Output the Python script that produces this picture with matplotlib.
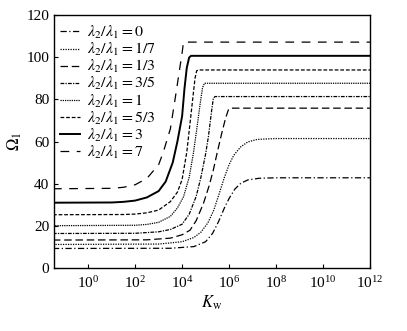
import numpy as np
import matplotlib
matplotlib.use('Agg')
import matplotlib.pyplot as plt

plt.rcParams['font.family'] = ['Liberation Serif', 'DejaVu Serif']
plt.rcParams['mathtext.fontset'] = 'stix'

# values: log10(K_w) and Omega_1 for each lambda2/lambda1
logk_0 = [-1.5, 3.5, 4.5, 5.0, 5.3, 5.55, 5.8, 6.0, 6.25, 6.5, 6.8, 7.3, 8.0, 12]
om_0 = [9.3, 9.4, 10.2, 12.5, 16.5, 22.0, 28.5, 33.0, 37.5, 40.2, 41.8, 42.6, 42.8, 42.8]

logk_17 = [-1.5, 3.0, 4.0, 4.5, 4.8, 5.1, 5.35, 5.6, 5.8, 6.0, 6.2, 6.5, 6.8, 7.2, 8.0, 12]
om_17 = [11.2, 11.4, 12.5, 14.5, 17.0, 21.5, 27.5, 36.0, 43.0, 49.0, 53.5, 57.5, 59.8, 61.0, 61.4, 61.4]

logk_13 = [-1.5, 2.5, 3.5, 4.0, 4.34, 4.6, 4.91, 5.15, 5.33, 5.5, 5.69, 5.85, 5.97, 6.05, 12]
om_13 = [13.3, 13.4, 14.2, 15.8, 18.0, 22.5, 30.7, 39.0, 46.5, 55.0, 64.0, 71.0, 75.0, 75.8, 75.8]

logk_35 = [-1.5, 2.0, 3.0, 3.5, 4.0, 4.3, 4.6, 4.8, 5.0, 5.12, 5.25, 5.33, 5.4, 12]
om_35 = [16.4, 16.5, 17.2, 18.3, 20.8, 25.5, 34.0, 43.0, 54.0, 62.3, 74.0, 80.5, 81.3, 81.3]

logk_1 = [-1.5, 2.0, 2.5, 3.0, 3.5, 3.8, 4.06, 4.3, 4.48, 4.65, 4.77, 4.87, 4.95, 12]
om_1 = [20.1, 20.3, 20.7, 21.7, 24.5, 28.5, 33.8, 43.0, 54.4, 68.0, 78.0, 85.5, 87.6, 87.6]

logk_53 = [-1.5, 1.5, 2.0, 2.5, 3.0, 3.5, 3.8, 4.0, 4.2, 4.35, 4.45, 4.55, 4.62, 4.7, 12]
om_53 = [25.3, 25.4, 25.6, 26.2, 27.5, 31.5, 36.0, 42.0, 55.0, 70.0, 80.0, 90.0, 93.5, 93.9, 93.9]

logk_3 = [-1.5, 1.0, 1.5, 2.0, 2.5, 3.0, 3.3, 3.6, 3.8, 4.0, 4.1, 4.2, 4.3, 4.38, 12]
om_3 = [31.0, 31.1, 31.4, 32.0, 33.5, 36.5, 41.0, 50.0, 60.0, 72.0, 85.0, 95.0, 99.8, 100.6, 100.6]

logk_7 = [-1.5, 1.0, 1.5, 2.0, 2.5, 3.0, 3.2, 3.5, 3.7, 3.85, 4.0, 4.06, 12]
om_7 = [37.6, 37.8, 38.3, 39.5, 42.5, 49.0, 55.0, 66.0, 80.0, 91.0, 102.0, 107.1, 107.1]

labels = ['0', '1/7', '1/3', '3/5', '1', '5/3', '3', '7']

fig = plt.figure(figsize=(4.07, 3.31), dpi=100)
ax = fig.add_axes([0.133, 0.190, 0.776, 0.765])

curves = [
    (logk_0, om_0, (0, (5, 2, 1, 2)), 0.9),
    (logk_17, om_17, (0, (1, 1)), 0.9),
    (logk_13, om_13, (0, (6, 3)), 0.9),
    (logk_35, om_35, (0, (3, 1, 1, 1)), 0.9),
    (logk_1, om_1, (0, (1, 0.8)), 0.9),
    (logk_53, om_53, (0, (3, 1.5)), 0.9),
    (logk_3, om_3, '-', 1.4),
    (logk_7, om_7, (0, (7, 6)), 0.9),
]

for (lk, om, ls, lw), lab in zip(curves, labels):
    ax.plot(10.0 ** np.array(lk), om, color='black', linestyle=ls, linewidth=lw,
            label=r'$\lambda_2/\lambda_1=%s$' % lab)

ax.set_xscale('log')
ax.set_xlim(10 ** -1.45, 1e12)
ax.set_ylim(0, 120)
ax.set_xticks([1e0, 1e2, 1e4, 1e6, 1e8, 1e10, 1e12])
ax.set_yticks([0, 20, 40, 60, 80, 100, 120])
ax.minorticks_off()
ax.tick_params(direction='in', length=3, labelsize=11, top=False, right=False)
ax.tick_params(axis='x', pad=5)
for s in ax.spines.values():
    s.set_linewidth(1.0)

ax.set_xlabel(r'$K_{\rm w}$', fontsize=12, labelpad=2)
ax.set_ylabel(r'$\Omega_1$', fontsize=12, labelpad=2)

ax.legend(loc='upper left', frameon=False, fontsize=11.5, handlelength=1.3,
          handletextpad=0.45, labelspacing=0.0, borderpad=0.1,
          borderaxespad=0.0, bbox_to_anchor=(0.012, 0.97))

fig.savefig('out.png', dpi=100)
